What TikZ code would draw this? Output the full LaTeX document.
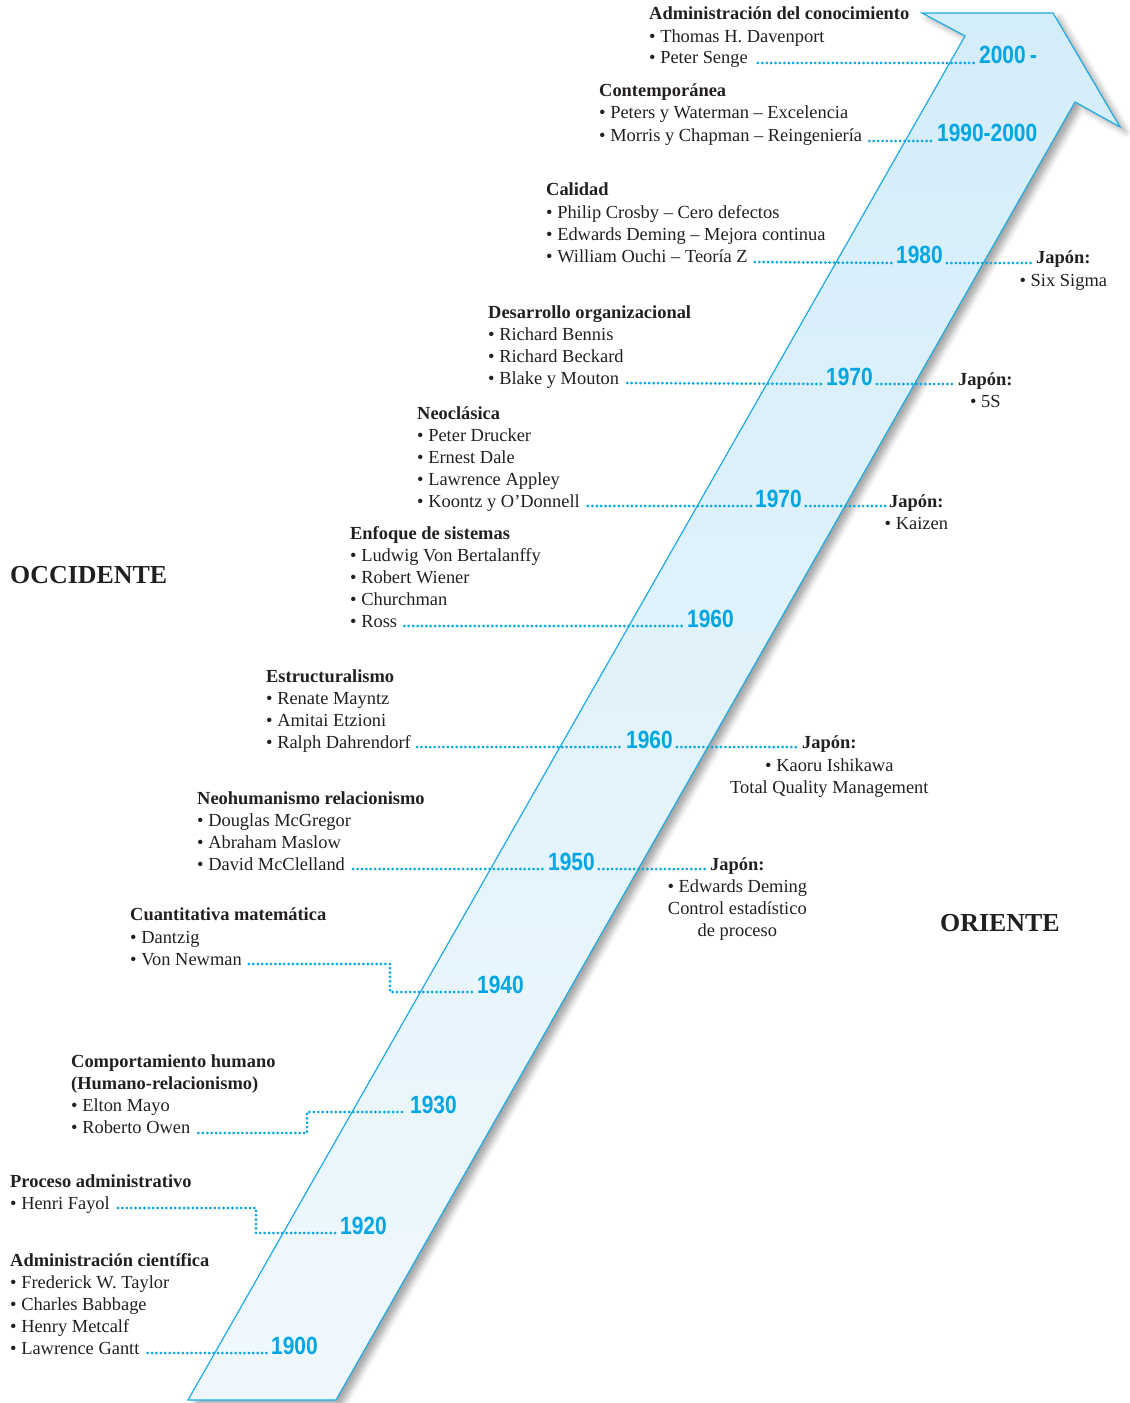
\documentclass[tikz,border=0pt]{standalone}
\usepackage{fontspec}
\setmainfont{Liberation Serif}
\newfontfamily\yearfont[FakeStretch=0.84]{Liberation Sans}
\usetikzlibrary{shadows.blur}
\definecolor{txtc}{RGB}{35,31,32}
\definecolor{yrc}{RGB}{0,166,228}
\definecolor{arrc}{RGB}{30,170,228}
\definecolor{artop}{RGB}{212,237,250}
\definecolor{arbot}{RGB}{240,248,253}
\tikzset{
 txt/.style={anchor=base west, inner sep=0pt, text=txtc, font=\fontsize{18.5}{22}\selectfont},
 hd/.style={txt, font=\fontsize{18.5}{22}\selectfont\bfseries},
 big/.style={txt, font=\fontsize{26}{30}\selectfont\bfseries},
 yr/.style={anchor=base west, inner sep=0pt, text=yrc, font=\fontsize{25}{25}\yearfont\bfseries},
 dots/.style={yrc, line width=3bp, line cap=round, dash pattern=on 0pt off 4.4bp},
 jl/.style={anchor=base, inner sep=0pt, text=txtc, font=\fontsize{18.5}{22}\selectfont},
 arrowband/.style={draw=arrc, line width=1.2bp, top color=artop, bottom color=arbot,
   blur shadow={shadow xshift=6bp, shadow yshift=-5bp, shadow blur radius=6bp, shadow opacity=35}},
}
\begin{document}
\begin{tikzpicture}[x=1bp,y=-1bp]
\useasboundingbox (0,0) rectangle (1129,1403);
% arrow
\path[arrowband] (922,13) -- (1053,13) -- (1120,127) -- (1075,102) -- (336,1400) -- (188,1400) -- (965,36) -- cycle;

% headings
\node[big] (occ) at (10,583) {OCCIDENTE};
\node[big] (ori) at (940,931) {ORIENTE};

% group 1
\node[hd] (g1a) at (649,20) {Administración del conocimiento};
\node[txt] (g1b) at (649,43) {• Thomas H. Davenport};
\node[txt] (g1c) at (649,64) {• Peter Senge};
\node[yr] (y1) at (979,64) {2000\,-};
\draw[dots] ([xshift=10bp,yshift=1bp]g1c.base east) -- ([xshift=-4bp,yshift=1bp]y1.base west);

% group 2
\node[hd] (g2a) at (599,97) {Contemporánea};
\node[txt] (g2b) at (599,119) {• Peters y Waterman – Excelencia};
\node[txt] (g2c) at (599,142) {• Morris y Chapman – Reingeniería};
\node[yr] (y2) at (937,142) {1990-2000};
\draw[dots] ([xshift=7bp,yshift=1bp]g2c.base east) -- ([xshift=-4bp,yshift=1bp]y2.base west);

% group 3
\node[hd] (g3a) at (546,196) {Calidad};
\node[txt] (g3b) at (546,219) {• Philip Crosby – Cero defectos};
\node[txt] (g3c) at (546,241) {• Edwards Deming – Mejora continua};
\node[txt] (g3d) at (546,263) {• William Ouchi – Teoría Z};
\node[yr] (y3) at (896,264) {1980};
\node[hd] (j3) at (1036,264) {Japón:};
\node[jl] (j3a) at ([yshift=-22bp]j3.base) {• Six Sigma};
\draw[dots] ([xshift=7bp,yshift=1bp]g3d.base east) -- ([xshift=-4bp,yshift=1bp]y3.base west);
\draw[dots] ([xshift=4bp,yshift=1bp]y3.base east) -- ([xshift=-3bp,yshift=1bp]j3.base west);

% group 4
\node[hd] (g4a) at (488,318) {Desarrollo organizacional};
\node[txt] (g4b) at (488,340) {• Richard Bennis};
\node[txt] (g4c) at (488,362) {• Richard Beckard};
\node[txt] (g4d) at (488,384) {• Blake y Mouton};
\node[yr] (y4) at (826,385) {1970};
\node[hd] (j4) at (958,385) {Japón:};
\node[jl] (j4a) at ([yshift=-22bp]j4.base) {• 5S};
\draw[dots] ([xshift=8bp,yshift=1bp]g4d.base east) -- ([xshift=-4bp,yshift=1bp]y4.base west);
\draw[dots] ([xshift=4bp,yshift=1bp]y4.base east) -- ([xshift=-3bp,yshift=1bp]j4.base west);

% group 5
\node[hd] (g5a) at (417,419) {Neoclásica};
\node[txt] (g5b) at (417,441) {• Peter Drucker};
\node[txt] (g5c) at (417,463) {• Ernest Dale};
\node[txt] (g5d) at (417,485) {• Lawrence Appley};
\node[txt] (g5e) at (417,507) {• Koontz y O’Donnell};
\node[yr] (y5) at (755,507) {1970};
\node[hd] (j5) at (889,507) {Japón:};
\node[jl] (j5a) at ([yshift=-22bp]j5.base) {• Kaizen};
\draw[dots] ([xshift=8bp,yshift=1bp]g5e.base east) -- ([xshift=-4bp,yshift=1bp]y5.base west);
\draw[dots] ([xshift=4bp,yshift=1bp]y5.base east) -- ([xshift=-3bp,yshift=1bp]j5.base west);

% group 6
\node[hd] (g6a) at (350,539) {Enfoque de sistemas};
\node[txt] (g6b) at (350,561) {• Ludwig Von Bertalanffy};
\node[txt] (g6c) at (350,583) {• Robert Wiener};
\node[txt] (g6d) at (350,605) {• Churchman};
\node[txt] (g6e) at (350,627) {• Ross};
\node[yr] (y6) at (687,627) {1960};
\draw[dots] ([xshift=7bp,yshift=1bp]g6e.base east) -- ([xshift=-4bp,yshift=1bp]y6.base west);

% group 7
\node[hd] (g7a) at (266,682) {Estructuralismo};
\node[txt] (g7b) at (266,704) {• Renate Mayntz};
\node[txt] (g7c) at (266,726) {• Amitai Etzioni};
\node[txt] (g7d) at (266,748) {• Ralph Dahrendorf};
\node[yr] (y7) at (626,748) {1960};
\node[hd] (j7) at (802,748) {Japón:};
\node[jl] (j7a) at ([yshift=-23bp]j7.base) {• Kaoru Ishikawa};
\node[jl] (j7b) at ([yshift=-45bp]j7.base) {Total Quality Management};
\draw[dots] ([xshift=6bp,yshift=1bp]g7d.base east) -- ([xshift=-4bp,yshift=1bp]y7.base west);
\draw[dots] ([xshift=4bp,yshift=1bp]y7.base east) -- ([xshift=-3bp,yshift=1bp]j7.base west);

% group 8
\node[hd] (g8a) at (197,804) {Neohumanismo relacionismo};
\node[txt] (g8b) at (197,826) {• Douglas McGregor};
\node[txt] (g8c) at (197,848) {• Abraham Maslow};
\node[txt] (g8d) at (197,870) {• David McClelland};
\node[yr] (y8) at (548,870) {1950};
\node[hd] (j8) at (710,870) {Japón:};
\node[jl] (j8a) at ([yshift=-22bp]j8.base) {• Edwards Deming};
\node[jl] (j8b) at ([yshift=-44bp]j8.base) {Control estadístico};
\node[jl] (j8c) at ([yshift=-66bp]j8.base) {de proceso};
\draw[dots] ([xshift=8bp,yshift=1bp]g8d.base east) -- ([xshift=-4bp,yshift=1bp]y8.base west);
\draw[dots] ([xshift=4bp,yshift=1bp]y8.base east) -- ([xshift=-3bp,yshift=1bp]j8.base west);

% group 9
\node[hd] (g9a) at (130,920) {Cuantitativa matemática};
\node[txt] (g9b) at (130,943) {• Dantzig};
\node[txt] (g9c) at (130,965) {• Von Newman};
\node[yr] (y9) at (477,993) {1940};
\coordinate (e9) at (390,0);
\coordinate (a9) at ([xshift=7bp,yshift=1bp]g9c.base east);
\coordinate (b9) at ([xshift=-4bp,yshift=1bp]y9.base west);
\draw[dots] (a9) -| (e9 |- b9) -- (b9);

% group 10
\node[hd] (g10a) at (71,1067) {Comportamiento humano};
\node[hd] (g10b) at (71,1089) {(Humano-relacionismo)};
\node[txt] (g10c) at (71,1111) {• Elton Mayo};
\node[txt] (g10d) at (71,1133) {• Roberto Owen};
\node[yr] (y10) at (410,1113) {1930};
\coordinate (e10) at (307,0);
\coordinate (a10) at ([xshift=8bp,yshift=0bp]g10d.base east);
\coordinate (b10) at ([xshift=-4bp,yshift=1bp]y10.base west);
\draw[dots] (a10) -| (e10 |- b10) -- (b10);

% group 11
\node[hd] (g11a) at (10,1187) {Proceso administrativo};
\node[txt] (g11b) at (10,1209) {• Henri Fayol};
\node[yr] (y11) at (340,1234) {1920};
\coordinate (e11) at (256,0);
\coordinate (a11) at ([xshift=8bp,yshift=1bp]g11b.base east);
\coordinate (b11) at ([xshift=-4bp,yshift=1bp]y11.base west);
\draw[dots] (a11) -| (e11 |- b11) -- (b11);

% group 12
\node[hd] (g12a) at (10,1266) {Administración científica};
\node[txt] (g12b) at (10,1288) {• Frederick W. Taylor};
\node[txt] (g12c) at (10,1310) {• Charles Babbage};
\node[txt] (g12d) at (10,1332) {• Henry Metcalf};
\node[txt] (g12e) at (10,1354) {• Lawrence Gantt};
\node[yr] (y12) at (271,1354) {1900};
\draw[dots] ([xshift=8bp,yshift=1bp]g12e.base east) -- ([xshift=-4bp,yshift=1bp]y12.base west);
\end{tikzpicture}
\end{document}
